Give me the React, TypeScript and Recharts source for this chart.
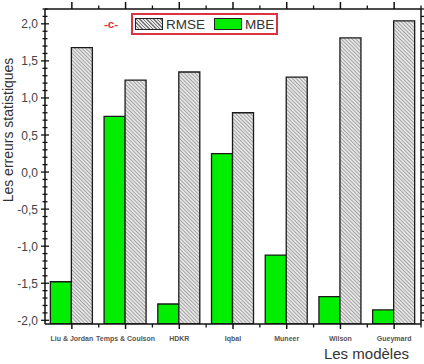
import { BarChart, Bar, XAxis, YAxis, Legend } from "recharts";

const CATEGORIES = ["Liu & Jordan", "Temps & Coulson", "HDKR", "Iqbal", "Muneer", "Wilson", "Gueymard"];
const MBE = [-1.48, 0.75, -1.78, 0.25, -1.12, -1.68, -1.86];
const RMSE = [1.68, 1.24, 1.35, 0.8, 1.28, 1.81, 2.04];
const MAJOR_TICKS = [-2.0, -1.5, -1.0, -0.5, 0.0, 0.5, 1.0, 1.5, 2.0];

const Y_MIN = -2.05;
const Y_MAX = 2.2;
// minor ticks every 0.1
const MINOR_TICKS = Array.from({ length: 43 }, (_, i) => Math.round(-20 + i) / 10);

const W = 424;
const H = 364;
const PLOT_LEFT = 45;
const PLOT_RIGHT = 421;
const BAND = (PLOT_RIGHT - PLOT_LEFT) / CATEGORIES.length;
const FONT = "'Liberation Sans', Arial, sans-serif";

const data = CATEGORIES.map((name, i) => ({ name, mbe: MBE[i], rmse: RMSE[i] }));

const fmt = (v: number) => v.toFixed(1).replace(".", ",");
const isMajor = (v: number) => MAJOR_TICKS.some((m) => Math.abs(m - v) < 1e-6);

function LeftTick(props: any) {
  const { x, y, payload } = props;
  const major = isMajor(payload.value);
  const len = major ? 4 : 2.5;
  return (
    <g>
      <line x1={x - len} x2={x + len} y1={y} y2={y} stroke="#111" strokeWidth={1.3} />
      {major && (
        <text x={x - 7} y={y} dy={4.5} textAnchor="end" fontSize={12} style={{ fill: "#444" }} fontFamily={FONT}>
          {fmt(payload.value)}
        </text>
      )}
    </g>
  );
}

function RightTick(props: any) {
  const { x, y } = props;
  return <line x1={x} x2={x + 4} y1={y} y2={y} stroke="#111" strokeWidth={1.3} />;
}

function BottomTick(props: any) {
  const { x, y, payload } = props;
  return (
    <g>
      <line x1={x} x2={x} y1={y} y2={y + 5} stroke="#111" strokeWidth={1.5} />
      <line x1={x + BAND / 2} x2={x + BAND / 2} y1={y} y2={y + 3.5} stroke="#111" strokeWidth={1.3} />
      <text
        x={x}
        y={y + 17}
        textAnchor="middle"
        fontSize={7}
        fontWeight="bold"
        style={{ fill: "#555" }}
        fontFamily={FONT}
      >
        {payload.value}
      </text>
    </g>
  );
}

function TopTick(props: any) {
  const { x, y } = props;
  return (
    <g>
      <line x1={x} x2={x} y1={y} y2={y - 7} stroke="#111" strokeWidth={1.5} />
      <line x1={x + BAND / 2} x2={x + BAND / 2} y1={y} y2={y - 3.5} stroke="#111" strokeWidth={1.3} />
    </g>
  );
}

function LegendBox({ payload }: any) {
  const items = [...(payload || [])].reverse();
  return (
    <div style={{ display: "flex", alignItems: "center", fontFamily: FONT }}>
      <span style={{ color: "#e0303a", fontWeight: "bold", fontSize: 11.5, marginRight: 13 }}>-c-</span>
      <div
        style={{
          display: "flex",
          alignItems: "center",
          border: "2px solid #d9343f",
          height: 18,
          padding: "0 2px",
        }}
      >
        {items.map((it: any) => (
          <div key={it.value} style={{ display: "flex", alignItems: "center", marginRight: it.value === "RMSE" ? 9 : 0 }}>
            <div
              style={{
                width: 26,
                height: 10,
                border: "1.3px solid #222",
                background:
                  it.value === "RMSE"
                    ? "repeating-linear-gradient(45deg, #e2e2e2 0px, #e2e2e2 1.5px, #7a7a7a 1.5px, #7a7a7a 2.5px)"
                    : "#00ee00",
              }}
            />
            <span style={{ fontSize: 13.5, color: "#333", marginLeft: 3 }}>{it.value}</span>
          </div>
        ))}
      </div>
    </div>
  );
}

export default function App() {
  return (
    <div style={{ position: "absolute", left: 0, top: 0, background: "#fff" }}>
      <BarChart
        width={W}
        height={H}
        data={data}
        margin={{ top: 8, right: W - PLOT_RIGHT - 1, bottom: 10, left: 0 }}
        barCategoryGap="10%"
        barGap={0}
      >
        <defs>
          <pattern id="hatch" width="2.6" height="2.6" patternUnits="userSpaceOnUse" patternTransform="rotate(-45)">
            <rect width="2.6" height="2.6" fill="#e4e4e4" />
            <line x1="0" y1="0" x2="0" y2="2.6" stroke="#7a7a7a" strokeWidth="1.1" />
          </pattern>
        </defs>
        <XAxis
          dataKey="name"
          xAxisId="bottom"
          height={30}
          interval={0}
          tickSize={0}
          tickMargin={0}
          tickLine={false}
          tick={<BottomTick />}
          axisLine={{ stroke: "#111", strokeWidth: 1.5 }}
          label={() => (
            <text x={409} y={359} textAnchor="end" fontSize={15} fill="#333" fontFamily={FONT}>
              Les modèles
            </text>
          )}
        />
        <XAxis
          dataKey="name"
          xAxisId="top"
          orientation="top"
          height={1}
          interval={0}
          tickSize={0}
          tickMargin={0}
          tickLine={false}
          tick={<TopTick />}
          axisLine={{ stroke: "#111", strokeWidth: 1.5 }}
        />
        <YAxis
          yAxisId="left"
          width={PLOT_LEFT}
          domain={[Y_MIN, Y_MAX]}
          allowDataOverflow
          ticks={MINOR_TICKS}
          interval={0}
          tickSize={0}
          tickMargin={0}
          tickLine={false}
          tick={<LeftTick />}
          axisLine={{ stroke: "#111", strokeWidth: 1.5 }}
          label={() => (
            <text
              x={13}
              y={130}
              transform="rotate(-90 13 130)"
              textAnchor="middle"
              fontSize={14}
              fill="#333"
              fontFamily={FONT}
            >
              Les erreurs statistiques
            </text>
          )}
        />
        <YAxis
          yAxisId="right"
          orientation="right"
          width={1}
          domain={[Y_MIN, Y_MAX]}
          allowDataOverflow
          ticks={MINOR_TICKS}
          interval={0}
          tickSize={0}
          tickMargin={0}
          tickLine={false}
          tick={<RightTick />}
          axisLine={{ stroke: "#111", strokeWidth: 1.5 }}
        />
        <Legend
          layout="vertical"
          verticalAlign="middle"
          align="center"
          content={<LegendBox />}
          wrapperStyle={{ top: 13, left: 104, width: 200 }}
        />
        <Bar
          name="MBE"
          xAxisId="bottom"
          yAxisId="left"
          dataKey={(d: any) => [Y_MIN, d.mbe]}
          fill="#00ee00"
          stroke="#1a1a1a"
          strokeWidth={1.3}
          isAnimationActive={false}
        />
        <Bar
          name="RMSE"
          xAxisId="bottom"
          yAxisId="left"
          dataKey={(d: any) => [Y_MIN, d.rmse]}
          fill="url(#hatch)"
          stroke="#1a1a1a"
          strokeWidth={1.3}
          isAnimationActive={false}
        />
      </BarChart>
    </div>
  );
}
